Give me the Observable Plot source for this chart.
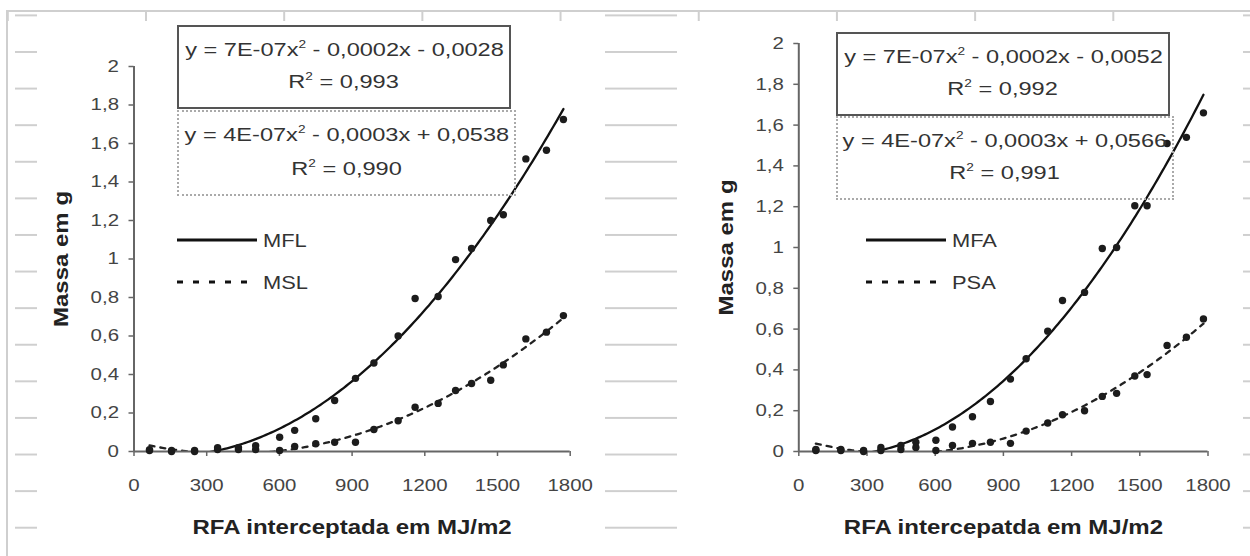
<!DOCTYPE html>
<html><head><meta charset="utf-8">
<script src="https://cdn.jsdelivr.net/npm/d3@7"></script>
<script src="https://cdn.jsdelivr.net/npm/@observablehq/plot@0.6"></script>
<style>
html,body{margin:0;padding:0;background:#fff;}
#root{position:relative;width:1250px;height:556px;overflow:hidden;background:#fff;font-family:"Liberation Sans",Arial,sans-serif;}
.deco{position:absolute;}
.plot{position:absolute;top:0;}
.box{position:absolute;box-sizing:border-box;}
.solid{border:2px solid #555;}
.dotted{border:2px dotted #aaa;}
.eq{position:absolute;left:0;right:0;text-align:center;font-size:19px;color:#333;line-height:1;transform:translateY(-50%);}
.eq span{display:inline-block;transform:scaleX(1.24);white-space:nowrap;}
.eq sup{font-size:11px;vertical-align:8px;line-height:0;}
.leg{position:absolute;font-size:19px;color:#333;line-height:1;transform:translateY(-50%);}
.leg span{display:inline-block;transform:scaleX(1.15);transform-origin:left center;}
svg g[aria-label="x-axis label"] text, svg g[aria-label="y-axis label"] text{font-weight:bold;font-size:20px;fill:#222;}
svg g[aria-label="x-axis tick label"] text, svg g[aria-label="y-axis tick label"] text{fill:#444;}
</style>
</head><body>
<div id="root">
  <div class="deco" style="left:6px;top:10px;right:0;bottom:-4px;border-left:2px solid #cfcfcf;border-top:2px solid #cfcfcf;"></div>
  <div class="deco" style="left:8px;top:12px;width:1242px;height:9px;background-image:linear-gradient(to right,#cfcfcf 0 2px,transparent 2px);background-size:138.2px 100%;background-position:137px 0;"></div>
  <div class="deco" style="left:15px;top:0;width:22px;height:556px;background-image:linear-gradient(to bottom,#cfcfcf 0 2px,transparent 2px);background-size:100% 36.6px;background-position:0 51px;"></div>
  <div class="deco" style="left:605px;top:0;width:72px;height:556px;background-image:linear-gradient(to bottom,#cfcfcf 0 2px,transparent 2px);background-size:100% 36.6px;background-position:0 51px;"></div>
  <div class="deco" style="left:1243px;top:0;width:7px;height:556px;background-image:linear-gradient(to bottom,#cfcfcf 0 2px,transparent 2px);background-size:100% 36.6px;background-position:0 51px;"></div>
</div>
<script>
// ---------- data ----------
const xLeft = [64, 155, 250, 345, 431, 502, 601, 663, 750, 828, 914, 990, 1090, 1160, 1255, 1327, 1393, 1472, 1524, 1617, 1702, 1772];
const mfl   = [0.01, 0.005, 0.005, 0.02, 0.02, 0.03, 0.074, 0.11, 0.17, 0.265, 0.38, 0.46, 0.60, 0.795, 0.805, 0.997, 1.055, 1.20, 1.23, 1.52, 1.565, 1.725];
const msl   = [0.005, 0.0, 0.0, 0.01, 0.01, 0.01, 0.005, 0.026, 0.04, 0.048, 0.048, 0.114, 0.16, 0.23, 0.25, 0.317, 0.353, 0.37, 0.45, 0.585, 0.62, 0.706];

const xRight = [75, 185, 285, 361, 449, 515, 603, 676, 764, 843, 931, 1000, 1095, 1160, 1257, 1335, 1398, 1478, 1532, 1620, 1705, 1780];
const mfa    = [0.01, 0.01, 0.005, 0.02, 0.03, 0.045, 0.055, 0.12, 0.17, 0.245, 0.355, 0.455, 0.59, 0.74, 0.78, 0.995, 1.0, 1.205, 1.205, 1.51, 1.54, 1.66];
const psa    = [0.005, 0.005, 0.0, 0.005, 0.01, 0.02, 0.005, 0.03, 0.04, 0.045, 0.04, 0.10, 0.14, 0.18, 0.20, 0.27, 0.285, 0.37, 0.377, 0.52, 0.56, 0.65];

const xTicks = [0, 300, 600, 900, 1200, 1500, 1800];
const yTicks = [0, 0.2, 0.4, 0.6, 0.8, 1, 1.2, 1.4, 1.6, 1.8, 2];

const leftLabels  = {x: "RFA interceptada em MJ/m2", y: "Massa em g", s1: "MFL", s2: "MSL",
  eq1: ["y = 7E-07x", " - 0,0002x - 0,0028"], r1: "0,993", eq2: ["y = 4E-07x", " - 0,0003x + 0,0538"], r2: "0,990"};
const rightLabels = {x: "RFA intercepatda em MJ/m2", y: "Massa em g", s1: "MFA", s2: "PSA",
  eq1: ["y = 7E-07x", " - 0,0002x - 0,0052"], r1: "0,992", eq2: ["y = 4E-07x", " - 0,0003x + 0,0566"], r2: "0,991"};

// ---------- least-squares quadratic trendline (as the spreadsheet does) ----------
function quadFit(xs, ys) {
  const s = 1000; // scale for stability
  const S = Array(5).fill(0), T = Array(3).fill(0);
  xs.forEach((x0, i) => { const x = x0 / s; for (let k = 0; k < 5; k++) S[k] += x ** k; for (let k = 0; k < 3; k++) T[k] += ys[i] * x ** k; });
  const A = [[S[0], S[1], S[2], T[0]], [S[1], S[2], S[3], T[1]], [S[2], S[3], S[4], T[2]]];
  for (let i = 0; i < 3; i++) {
    for (let j = i + 1; j < 3; j++) { const f = A[j][i] / A[i][i]; for (let k = i; k < 4; k++) A[j][k] -= f * A[i][k]; }
  }
  const c = [0, 0, 0];
  for (let i = 2; i >= 0; i--) { let v = A[i][3]; for (let k = i + 1; k < 3; k++) v -= A[i][k] * c[k]; c[i] = v / A[i][i]; }
  return x => { const u = x / s; return c[0] + c[1] * u + c[2] * u * u; };
}
function trend(xs, ys) {
  const f = quadFit(xs, ys), x0 = d3.min(xs), x1 = d3.max(xs), n = 160;
  return d3.range(n + 1).map(i => { const x = x0 + (x1 - x0) * i / n; return {x, y: f(x)}; });
}
const fmtY = d => String(+d.toFixed(1)).replace(".", ",");

function chart(xs, s1, s2, lab, m) {
  const p1 = xs.map((x, i) => ({x, y: s1[i]}));
  const p2 = xs.map((x, i) => ({x, y: s2[i]}));
  return Plot.plot({
    width: 625, height: 556,
    marginLeft: m.l, marginRight: m.r, marginTop: m.t, marginBottom: m.b,
    style: {fontFamily: '"Liberation Sans", Arial, sans-serif', fontSize: "17px", color: "#444", background: "transparent", overflow: "visible"},
    x: {domain: [0, 1800]},
    y: {domain: [0, 2]},
    marks: [
      Plot.axisX({ticks: xTicks, tickFormat: d => String(d), tickSize: 5, tickPadding: 22, stroke: "#666", strokeWidth: 1.5,
        label: lab.x, labelAnchor: "center", labelArrow: "none", labelOffset: 82}),
      Plot.axisY({ticks: yTicks, tickFormat: fmtY, tickSize: 5, tickPadding: 10, stroke: "#666", strokeWidth: 1.5,
        label: lab.y, labelAnchor: "center", labelArrow: "none", labelOffset: m.lo}),
      Plot.line(trend(xs, s2), {x: "x", y: "y", stroke: "#222", strokeWidth: 2.3, strokeDasharray: "5,6", clip: true}),
      Plot.line(trend(xs, s1), {x: "x", y: "y", stroke: "#111", strokeWidth: 2.3, clip: true}),
      Plot.ruleY([0], {stroke: "#666", strokeWidth: 2}),
      Plot.ruleX([0], {stroke: "#666", strokeWidth: 2}),
      Plot.dot(p2, {x: "x", y: "y", r: 3.7, fill: "#1c1c1c", stroke: "none", symbol: "circle"}),
      Plot.dot(p1, {x: "x", y: "y", r: 3.7, fill: "#1c1c1c", stroke: "none", symbol: "circle"})
    ]
  });
}

const root = document.getElementById("root");
function addPlot(svg, left) {
  const wrap = document.createElement("div");
  wrap.className = "plot"; wrap.style.left = left + "px";
  wrap.appendChild(svg); root.appendChild(wrap);
  svg.querySelectorAll("text").forEach(t => {
    const L = t.getComputedTextLength();
    if (L > 0) { t.setAttribute("textLength", (L * 1.2).toFixed(1)); t.setAttribute("lengthAdjust", "spacingAndGlyphs"); }
  });
}
function addBox(cls, l, t, w, h, eq, r) {
  const b = document.createElement("div");
  b.className = "box " + cls;
  Object.assign(b.style, {left: l + "px", top: t + "px", width: w + "px", height: h + "px"});
  const l1 = document.createElement("div"); l1.className = "eq"; l1.style.top = "27%";
  l1.innerHTML = `<span>${eq[0]}<sup>2</sup>${eq[1]}</span>`;
  const l2 = document.createElement("div"); l2.className = "eq"; l2.style.top = "68%";
  l2.innerHTML = `<span>R<sup>2</sup> = ${r}</span>`;
  b.appendChild(l1); b.appendChild(l2); root.appendChild(b);
}
function addLegend(x, y1, y2, lab) {
  const mk = (y, dash, txt) => {
    const s = document.createElementNS("http://www.w3.org/2000/svg", "svg");
    s.setAttribute("width", 82); s.setAttribute("height", 8);
    Object.assign(s.style, {position: "absolute", left: x + "px", top: (y - 4) + "px"});
    s.innerHTML = `<line x1="0" x2="80" y1="4" y2="4" stroke="#111" stroke-width="3" ${dash ? 'stroke-dasharray="6,10"' : ''}/>`;
    root.appendChild(s);
    const d = document.createElement("div"); d.className = "leg";
    d.style.left = (x + 86) + "px"; d.style.top = y + "px";
    d.innerHTML = `<span>${txt}</span>`; root.appendChild(d);
  };
  mk(y1, false, lab.s1); mk(y2, true, lab.s2);
}

addPlot(chart(xLeft, mfl, msl, leftLabels, {l: 133.5, r: 55.3, t: 66, b: 105, lo: 80}), 0);
addPlot(chart(xRight, mfa, psa, rightLabels, {l: 173.3, r: 42.5, t: 43, b: 105, lo: 80}), 625);

addBox("dotted", 177, 110, 339, 86, leftLabels.eq2, leftLabels.r2);
addBox("solid", 177, 25, 334, 84, leftLabels.eq1, leftLabels.r1);
addBox("dotted", 836, 116, 338, 84, rightLabels.eq2, rightLabels.r2);
addBox("solid", 836, 32, 334, 84, rightLabels.eq1, rightLabels.r1);

addLegend(177, 240, 282, leftLabels);
addLegend(866, 240, 282, rightLabels);
</script>
</body></html>
